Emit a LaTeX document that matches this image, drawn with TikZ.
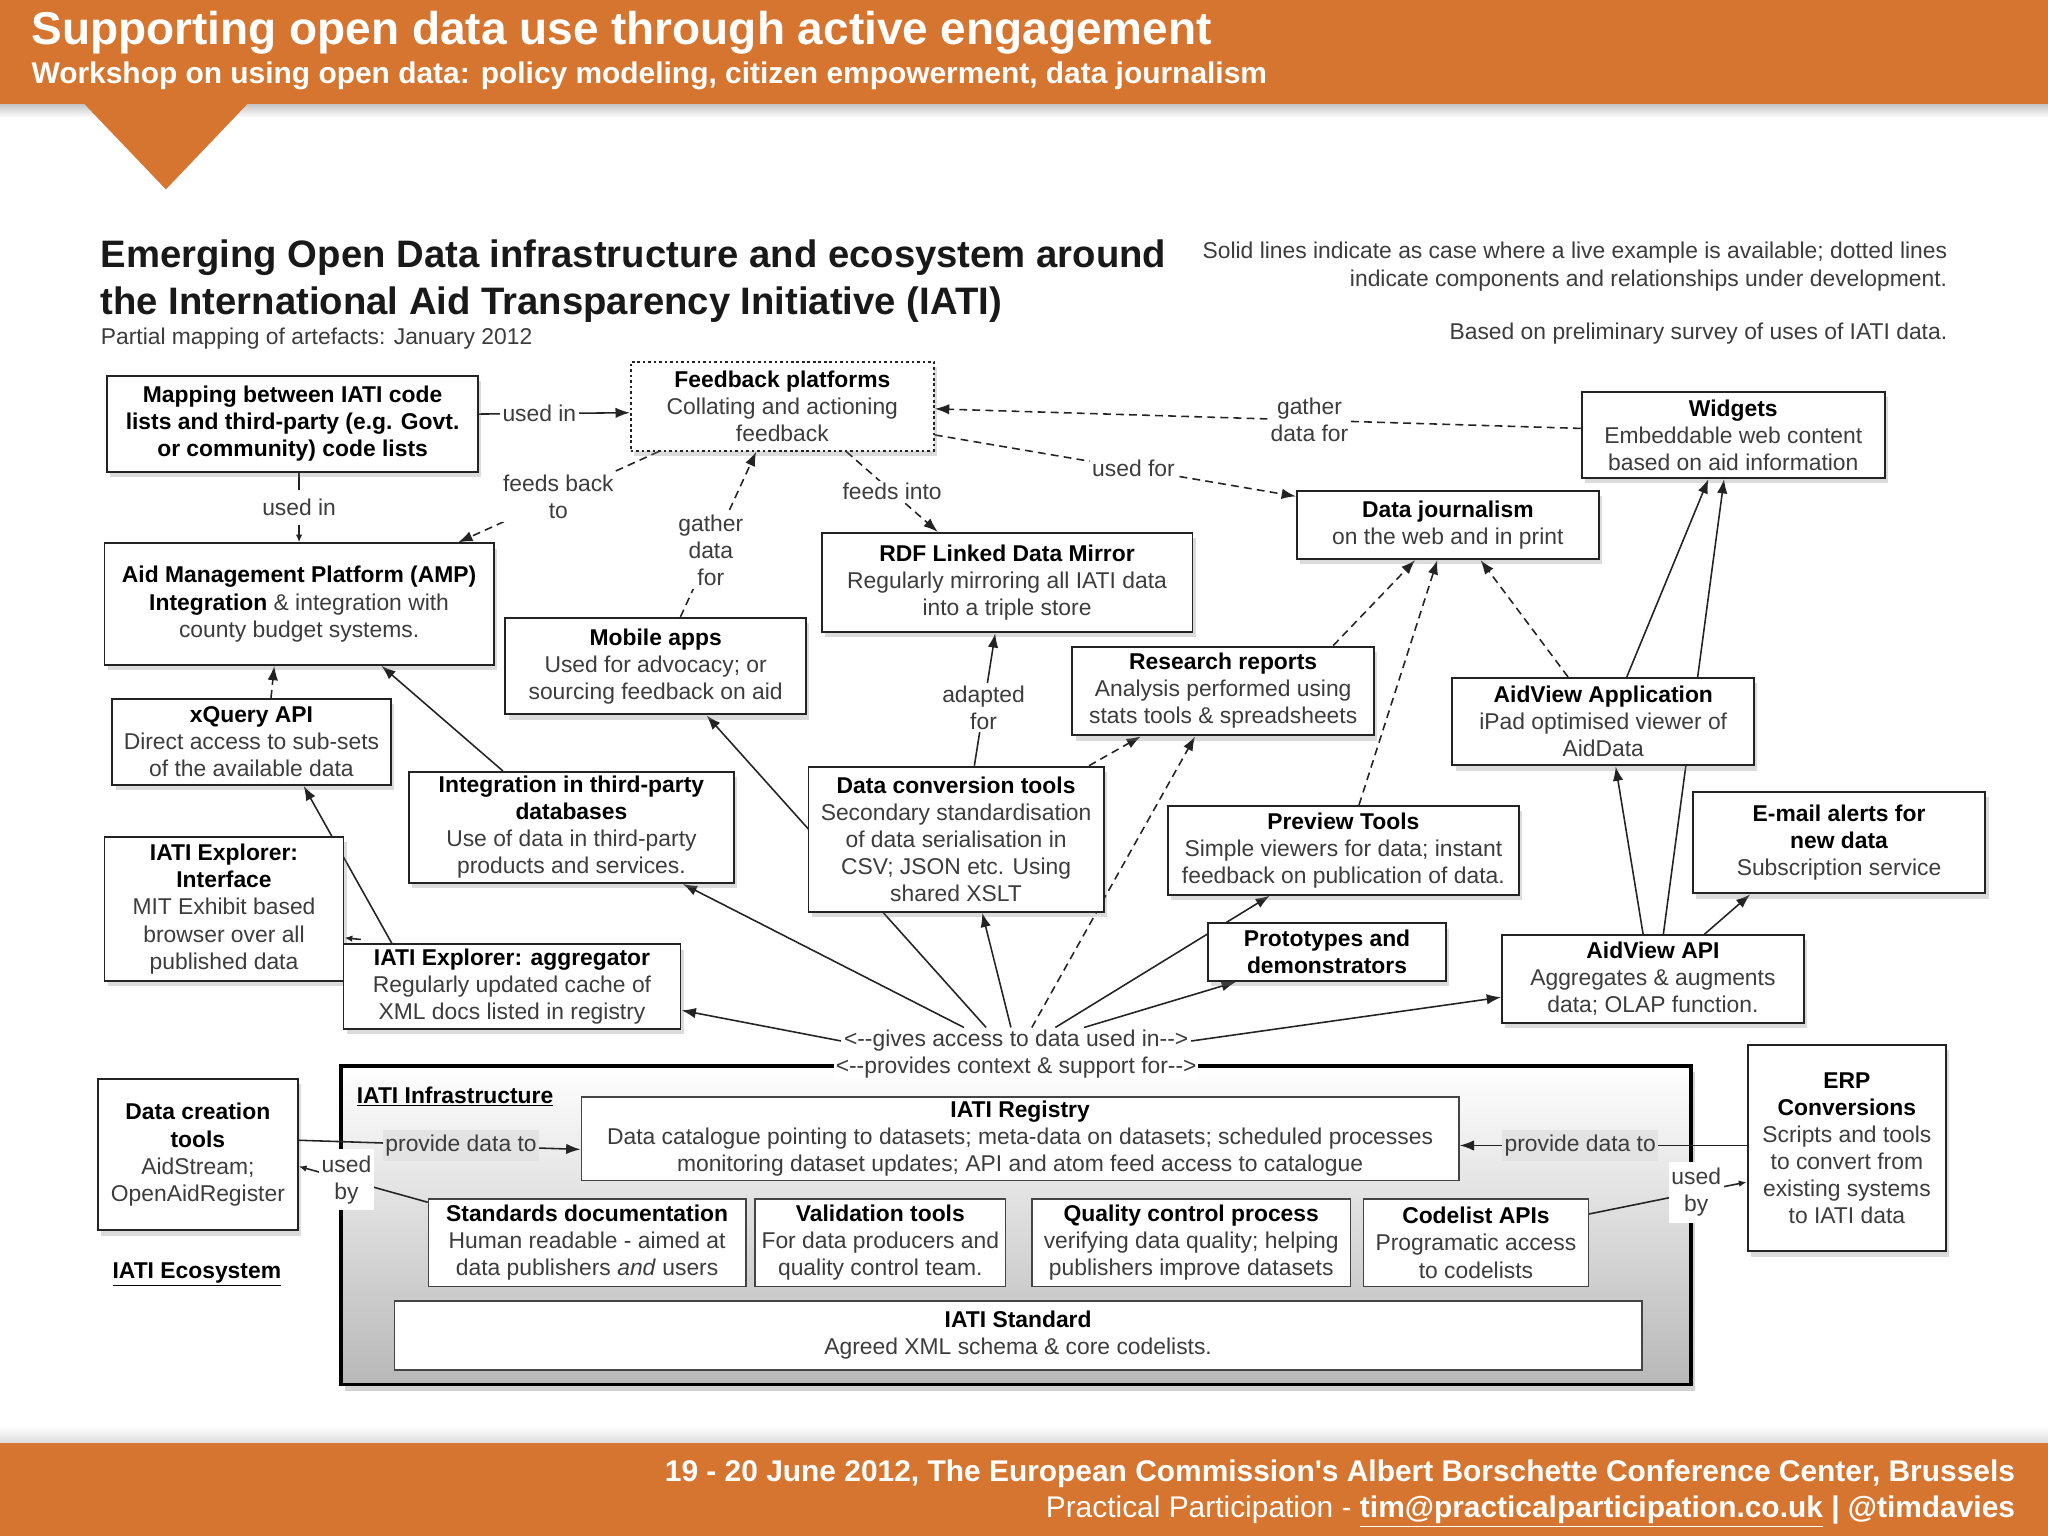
\documentclass[tikz,border=0pt]{standalone}
\usepackage{fontspec}
\setmainfont{Liberation Sans}
\usetikzlibrary{arrows.meta,shadows}
\definecolor{orng}{RGB}{214,117,47}
\definecolor{ink}{RGB}{35,35,35}
\definecolor{txt}{RGB}{60,60,60}
\pgfdeclarelayer{bg}
\pgfdeclarelayer{lines}
\pgfsetlayers{bg,lines,main}
\newcommand\bodyfont{\fontsize{17.5}{20.7}\selectfont}
\newcommand\hd[1]{{\bfseries\color{black}#1}}
\newcommand\dd{-{}-}
\tikzset{
  wh/.style 2 args={minimum width=#1pt, minimum height=#2pt},
  box/.style={draw=ink, line width=1.5pt, fill=white, inner sep=0pt, align=center, font=\bodyfont, text=txt,
    drop shadow={shadow xshift=2.5pt, shadow yshift=-4pt, opacity=0.28}},
  dotbox/.style={box, dash pattern=on 2pt off 2.2pt},
  ibox/.style={draw=ink!85, line width=1.1pt, fill=white, inner sep=0pt, align=center, font=\bodyfont, text=txt},
  lab/.style={fill=white, inner sep=2pt, align=center, font=\bodyfont, text=txt},
  glab/.style={lab, fill=black!11},
  con/.style={draw=ink, line width=1.2pt},
  arr/.style={con, -{Latex[length=11pt,width=8pt]}},
  darr/.style={arr, dash pattern=on 6pt off 4pt},
  sarr/.style={con, -{Latex[length=6pt,width=5pt]}},
  note/.style={font=\fontsize{17.5}{20}\selectfont, text=txt, inner sep=0pt},
  ttl/.style={anchor=base west, inner sep=0pt, font=\fontsize{29.3}{34}\selectfont\bfseries, text=black!90},
  foot/.style={anchor=base east, text=white, inner sep=0pt},
}
\begin{document}
\begin{tikzpicture}[x=1pt,y=-1pt]
\useasboundingbox (0,0) rectangle (1568,1176);
\begin{pgfonlayer}{bg}
\fill[white] (0,0) rectangle (1568,1176);
\shade[top color=black!22, bottom color=white] (0,80) rectangle (1568,90);
\fill[orng] (0,0) rectangle (1568,80);
\fill[orng] (64,79) -- (127,145) -- (190,79) -- cycle;
\shade[top color=white, bottom color=black!14] (0,1092) rectangle (1568,1105);
\fill[orng] (0,1105) rectangle (1568,1176);
\end{pgfonlayer}

% header / footer texts
\node[anchor=base west, text=white, font=\fontsize{35.2}{38}\selectfont\bfseries, inner sep=0pt] (htitle) at (24,34) {Supporting open data use through active engagement};
\node[anchor=base west, text=white, font=\fontsize{22.9}{26}\selectfont\bfseries, inner sep=0pt] (hsub) at (24,64) {Workshop on using open data: policy modeling, citizen empowerment, data journalism};
\node[foot, font=\fontsize{22.9}{26}\selectfont\bfseries] (f1) at (1543,1134) {19 - 20 June 2012, The European Commission\textquotesingle s Albert Borschette Conference Center, Brussels};
\node[foot, font=\fontsize{22.9}{26}\selectfont] (f2) at (1543,1162) {Practical Participation - \textbf{\underline{tim@practicalparticipation.co.uk}} \textbf{| @timdavies}};

% titles and notes
\node[ttl] (t1) at (77,204.5) {Emerging Open Data infrastructure and ecosystem around};
\node[ttl] (t2) at (77,240.5) {the International Aid Transparency Initiative (IATI)};
\node[note, anchor=base west] (t3) at (77,264) {Partial mapping of artefacts: January 2012};
\node[note, anchor=base east] (n1) at (1491,198) {Solid lines indicate as case where a live example is available; dotted lines};
\node[note, anchor=base east] (n2) at (1491,219) {indicate components and relationships under development.};
\node[note, anchor=base east] (n3) at (1491,260) {Based on preliminary survey of uses of IATI data.};

% ecosystem boxes
\node[box, wh={284}{73}] (map) at (224,324.5) {\hd{Mapping between IATI code}\\\hd{lists and third-party (e.g. Govt.}\\\hd{or community) code lists}};
\node[dotbox, wh={232}{68}] (feed) at (599,311) {\hd{Feedback platforms}\\Collating and actioning\\feedback};
\node[box, wh={232}{66}] (widg) at (1327,333) {\hd{Widgets}\\Embeddable web content\\based on aid information};
\node[box, wh={231}{52}] (dj) at (1108.5,402) {\hd{Data journalism}\\on the web and in print};
\node[box, wh={298}{93}] (amp) at (229,462.5) {\hd{Aid Management Platform (AMP)}\\\hd{Integration} \& integration with\\county budget systems.};
\node[box, wh={284}{76}] (rdf) at (771,446) {\hd{RDF Linked Data Mirror}\\Regularly mirroring all IATI data\\into a triple store};
\node[box, wh={230}{74}] (mob) at (502,510) {\hd{Mobile apps}\\Used for advocacy; or\\sourcing feedback on aid};
\node[box, wh={231}{68}] (rr) at (936.5,529) {\hd{Research reports}\\Analysis performed using\\stats tools \& spreadsheets};
\node[box, wh={231}{67}] (ava) at (1227.5,552.5) {\hd{AidView Application}\\iPad optimised viewer of\\AidData};
\node[box, wh={213}{66}] (xq) at (192.5,568) {\hd{xQuery API}\\Direct access to sub-sets\\of the available data};
\node[box, wh={249}{85}] (itp) at (437.5,633.5) {\hd{Integration in third-party}\\\hd{databases}\\Use of data in third-party\\products and services.};
\node[box, wh={226}{111}] (dct) at (732,642.5) {\hd{Data conversion tools}\\Secondary standardisation\\of data serialisation in\\CSV; JSON etc. Using\\shared XSLT};
\node[box, wh={269}{68}] (prev) at (1028.5,651) {\hd{Preview Tools}\\Simple viewers for data; instant\\feedback on publication of data.};
\node[box, wh={224}{78}] (email) at (1408,645) {\hd{E-mail alerts for}\\\hd{new data}\\Subscription service};
\node[box, wh={183}{110}] (iei) at (171.5,696) {\hd{IATI Explorer:}\\\hd{Interface}\\MIT Exhibit based\\browser over all\\published data};
\node[box, wh={258}{65}] (iea) at (392,755.5) {\hd{IATI Explorer: aggregator}\\Regularly updated cache of\\XML docs listed in registry};
\node[box, wh={182}{44}] (proto) at (1016,729) {\hd{Prototypes and}\\\hd{demonstrators}};
\node[box, wh={231}{67}] (avapi) at (1265.5,749.5) {\hd{AidView API}\\Aggregates \& augments\\data; OLAP function.};
\node[box, wh={153}{116}] (dctools) at (151.5,884) {\hd{Data creation}\\\hd{tools}\\AidStream;\\OpenAidRegister};
\node[box, wh={152}{158}] (erp) at (1414,879) {\hd{ERP}\\\hd{Conversions}\\Scripts and tools\\to convert from\\existing systems\\to IATI data};
\node[anchor=base west, inner sep=0pt, font=\bodyfont\bfseries, text=black] (ecol) at (86,979) {\underline{IATI Ecosystem}};

% infrastructure
\node[draw=black, line width=3pt, top color=white, bottom color=black!28, wh={1034}{244}, inner sep=0pt,
  drop shadow={shadow xshift=3pt, shadow yshift=-5pt, opacity=0.35}] (infra) at (778,938) {};
\node[anchor=base west, inner sep=0pt, font=\bodyfont\bfseries, text=black] (infl) at (273,845) {\underline{IATI Infrastructure}};
\node[ibox, wh={672}{64}] (reg) at (781,872) {\hd{IATI Registry}\\Data catalogue pointing to datasets; meta-data on datasets; scheduled processes\\monitoring dataset updates; API and atom feed access to catalogue};
\node[ibox, wh={243}{67}] (sd) at (449.5,951.5) {\hd{Standards documentation}\\Human readable - aimed at\\data publishers \textit{and} users};
\node[ibox, wh={192}{67}] (vt) at (674,951.5) {\hd{Validation tools}\\For data producers and\\quality control team.};
\node[ibox, wh={244}{67}] (qc) at (912,951.5) {\hd{Quality control process}\\verifying data quality; helping\\publishers improve datasets};
\node[ibox, wh={172}{67}] (cl) at (1130,951.5) {\hd{Codelist APIs}\\Programatic access\\to codelists};
\node[ibox, wh={955}{53}] (std) at (779.5,1022.5) {\hd{IATI Standard}\\Agreed XML schema \& core codelists.};

\node[lab] (hub) at (778,797) {<\dd gives access to data used in\dd>};
\node[lab, inner sep=1pt] (ctx) at (778,817) {<\dd provides context \& support for\dd>};

% connectors touching the infrastructure box (on top of it)
\draw[arr] ([yshift=11pt]dctools.east) -- node[glab, pos=0.576, inner ysep=4pt] {provide data to} ([yshift=-8pt]reg.west);
\draw[sarr] ([yshift=-3pt]sd.north west) -- node[lab, pos=0.63, inner ysep=5pt] {used\\by} ([yshift=-9pt]dctools.east);
\draw[arr] ([yshift=2pt]erp.west) -- node[glab, pos=0.58, inner ysep=4pt] {provide data to} ([yshift=-5pt]reg.east);
\draw[sarr] ([yshift=-12pt]cl.north east) -- node[lab, pos=0.68, inner ysep=5pt] {used\\by} ([yshift=-26pt]erp.west);

\begin{pgfonlayer}{lines}
\draw[arr] ([yshift=7.5pt]map.east) -- node[lab, pos=0.4] {used in} ([yshift=-5pt]feed.west);
\draw[sarr] ([xshift=5pt]map.south) -- node[lab, inner ysep=7pt] {used in} (amp.north);
\draw[darr] ([xshift=22pt]feed.south west) -- node[lab] {feeds back\\to} ([xshift=-28pt]amp.north east);
\draw[darr] ([xshift=19pt]mob.north) -- node[lab, pos=0.4] {gather\\data\\for} ([xshift=-20pt]feed.south);
\draw[darr] ([xshift=49pt]feed.south) -- node[lab] {feeds into} ([xshift=-53pt]rdf.north);
\draw[darr] ([yshift=5pt]widg.west) -- node[lab, pos=0.42] {gather\\data for} ([yshift=-2pt]feed.east);
\draw[darr] ([yshift=-22pt]feed.east) -- node[lab, pos=0.55] {used for} ([yshift=22pt]dj.west);
\draw[arr] ([xshift=14pt]dct.north) -- node[lab, pos=0.44] {adapted\\for} ([xshift=-9pt]rdf.south);
\draw[darr] ([xshift=-12pt]dct.north east) -- ([xshift=-63pt]rr.south);
\draw[darr] ([xshift=-32pt]rr.north east) -- ([xshift=-25pt]dj.south);
\draw[darr] ([xshift=12pt]prev.north) -- ([xshift=-8pt]dj.south);
\draw[darr] ([xshift=-27pt]ava.north) -- ([xshift=25pt]dj.south);
\draw[arr] ([xshift=18pt]ava.north) -- ([xshift=-19pt]widg.south);
\draw[arr] ([xshift=8pt]avapi.north) -- ([xshift=-7pt]widg.south);
\draw[arr] ([xshift=-7.5pt]avapi.north) -- ([xshift=9.5pt]ava.south);
\draw[arr] ([xshift=39.5pt]avapi.north) -- ([xshift=-68pt]email.south);
\draw[arr] ([xshift=-52.5pt]itp.north) -- ([xshift=63pt]amp.south);
\draw[darr] ([xshift=15pt]xq.north) -- ([xshift=-19pt]amp.south);
\draw[arr] ([xshift=-92pt]iea.north) -- ([xshift=40pt]xq.south);
\draw[sarr] ([xshift=14pt,yshift=3pt]iea.north west) -- ([yshift=-22pt]iei.east);
% hub
\draw[arr] (hub.west) -- ([yshift=-18pt]iea.east);
\draw[arr] ([xshift=-40pt]hub.north) -- ([xshift=-40pt]itp.south east);
\draw[arr] ([xshift=-23pt]hub.north) -- ([xshift=39pt]mob.south);
\draw[arr] ([xshift=-4pt]hub.north) -- ([xshift=20pt]dct.south);
\draw[darr] ([xshift=12pt]hub.north) -- ([xshift=-21.5pt]rr.south);
\draw[arr] ([xshift=30pt]hub.north) -- ([xshift=79pt]prev.south west);
\draw[arr] ([xshift=52pt]hub.north) -- ([xshift=22pt]proto.south west);
\draw[arr] (hub.east) -- ([yshift=-14pt]avapi.west);
\end{pgfonlayer}
\end{tikzpicture}
\end{document}
